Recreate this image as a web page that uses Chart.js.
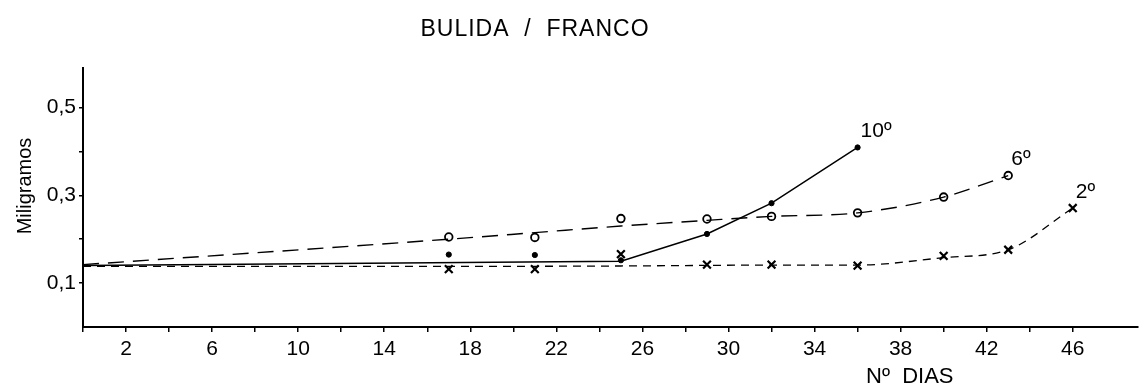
<!DOCTYPE html>
<html>
<head>
<meta charset="utf-8">
<script src="https://cdn.jsdelivr.net/npm/chart.js@4"></script>
<style>
  html, body { margin: 0; padding: 0; background: #fff; }
  .chart-container { position: relative; width: 1145px; height: 389px; }
</style>
</head>
<body>
<div class="chart-container">
  <canvas id="growthChart"></canvas>
</div>
<script>
// observed points (day, mg) per series
const days10 = [17, 21, 25, 29, 32, 36];
const mg10 = [0.165, 0.164, 0.152, 0.212, 0.282, 0.409];
const days6 = [17, 21, 25, 29, 32, 36, 40, 43];
const mg6 = [0.205, 0.204, 0.247, 0.246, 0.252, 0.26, 0.296, 0.345];
const days2 = [17, 21, 25, 29, 32, 36, 40, 43, 46];
const mg2 = [0.132, 0.132, 0.166, 0.142, 0.142, 0.14, 0.162, 0.176, 0.271];

// drawn curves (as traced on the original)
const curveDays10 = [0, 25, 29, 32, 36];
const curve10 = [0.14, 0.15, 0.212, 0.282, 0.409];
const curveDays6 = [0, 17, 21, 25, 29, 32, 36, 40, 43];
const curve6 = [0.142, 0.2, 0.215, 0.23, 0.243, 0.252, 0.26, 0.296, 0.345];
const curveDays2 = [0, 17, 25, 32, 36, 40, 43, 46];
const curve2 = [0.138, 0.138, 0.139, 0.141, 0.141, 0.158, 0.176, 0.271];

const seriesNames = ['10º', '6º', '2º'];
const yLabelTicks = [0.1, 0.3, 0.5];
const xLabelTicks = [2, 6, 10, 14, 18, 22, 26, 30, 34, 38, 42, 46];

const toPoints = (xs, ys) => xs.map((x, i) => ({ x: x, y: ys[i] }));
const FONT = '"Liberation Sans", Arial, sans-serif';

const textPlugin = {
  id: 'textPlugin',
  afterDraw(chart) {
    const ctx = chart.ctx;
    ctx.save();
    ctx.fillStyle = '#000';
    ctx.textBaseline = 'middle';

    // series labels next to the last marker
    [1, 3, 5].forEach((dsIndex, i) => {
      const meta = chart.getDatasetMeta(dsIndex);
      const pt = meta.data[meta.data.length - 1];
      ctx.font = '21px ' + FONT;
      ctx.textAlign = 'left';
      ctx.fillText(seriesNames[i], pt.x + 3, pt.y - 16);
    });

    // main title
    ctx.font = '23px ' + FONT;
    ctx.textAlign = 'center';
    ctx.letterSpacing = '1px';
    ctx.fillText('BULIDA  /  FRANCO', 535, 30);
    ctx.letterSpacing = '0px';

    // x axis title
    ctx.font = '22px ' + FONT;
    ctx.textAlign = 'left';
    ctx.fillText('Nº  DIAS', 866, 377);

    // y axis title
    ctx.translate(25, 186);
    ctx.rotate(-Math.PI / 2);
    ctx.font = '20px ' + FONT;
    ctx.textAlign = 'center';
    ctx.fillText('Miligramos', 0, 0);
    ctx.restore();
  }
};

new Chart(document.getElementById('growthChart'), {
  type: 'scatter',
  data: {
    datasets: [
      {
        data: toPoints(curveDays10, curve10),
        showLine: true,
        borderColor: '#000',
        borderWidth: 1.5,
        pointRadius: 0,
        tension: 0,
      },
      {
        data: toPoints(days10, mg10),
        pointStyle: 'circle',
        pointRadius: 2.6,
        backgroundColor: '#000',
        borderColor: '#000',
      },
      {
        data: toPoints(curveDays6, curve6),
        showLine: true,
        borderColor: '#000',
        borderWidth: 1.4,
        borderDash: [16, 9],
        pointRadius: 0,
        cubicInterpolationMode: 'monotone',
      },
      {
        data: toPoints(days6, mg6),
        pointStyle: 'circle',
        pointRadius: 3.8,
        borderWidth: 1.8,
        backgroundColor: '#fff',
        borderColor: '#000',
      },
      {
        data: toPoints(curveDays2, curve2),
        showLine: true,
        borderColor: '#000',
        borderWidth: 1.3,
        borderDash: [8, 6],
        pointRadius: 0,
        cubicInterpolationMode: 'monotone',
      },
      {
        data: toPoints(days2, mg2),
        pointStyle: 'crossRot',
        pointRadius: 5.5,
        borderWidth: 2.2,
        borderColor: '#000',
      },
    ],
  },
  options: {
    responsive: true,
    maintainAspectRatio: false,
    animation: false,
    layout: { padding: { top: 68, right: 0, left: 0, bottom: 0 } },
    plugins: {
      legend: { display: false },
      tooltip: { enabled: false },
    },
    scales: {
      x: {
        type: 'linear',
        min: 0,
        max: 49,
        afterBuildTicks: (axis) => {
          axis.ticks = axis.ticks.filter(t => t.value % 2 === 0);
        },
        afterFit: (axis) => { axis.height = 62; },
        ticks: {
          stepSize: 2,
          autoSkip: false,
          maxRotation: 0,
          padding: 5,
          color: '#000',
          font: { family: FONT, size: 21 },
          callback: (v) => (xLabelTicks.includes(v) ? String(v) : ''),
        },
        grid: {
          drawOnChartArea: false,
          drawTicks: true,
          tickLength: 5,
          color: '#000',
          lineWidth: 1.5,
        },
        border: { display: true, color: '#000', width: 2 },
      },
      y: {
        type: 'linear',
        min: 0,
        max: 0.59,
        afterBuildTicks: (axis) => {
          axis.ticks = axis.ticks.filter(t => t.value > 0.05 && t.value < 0.55);
        },
        afterFit: (axis) => { axis.width = 83; },
        ticks: {
          stepSize: 0.1,
          padding: 3,
          color: '#000',
          font: { family: FONT, size: 21 },
          callback: (v) => {
            const r = Math.round(v * 10) / 10;
            return yLabelTicks.includes(r) ? r.toFixed(1).replace('.', ',') : '';
          },
        },
        grid: {
          drawOnChartArea: false,
          drawTicks: true,
          tickLength: 4,
          color: '#000',
          lineWidth: 1.5,
        },
        border: { display: true, color: '#000', width: 2 },
      },
    },
  },
  plugins: [textPlugin],
});
</script>
</body>
</html>
